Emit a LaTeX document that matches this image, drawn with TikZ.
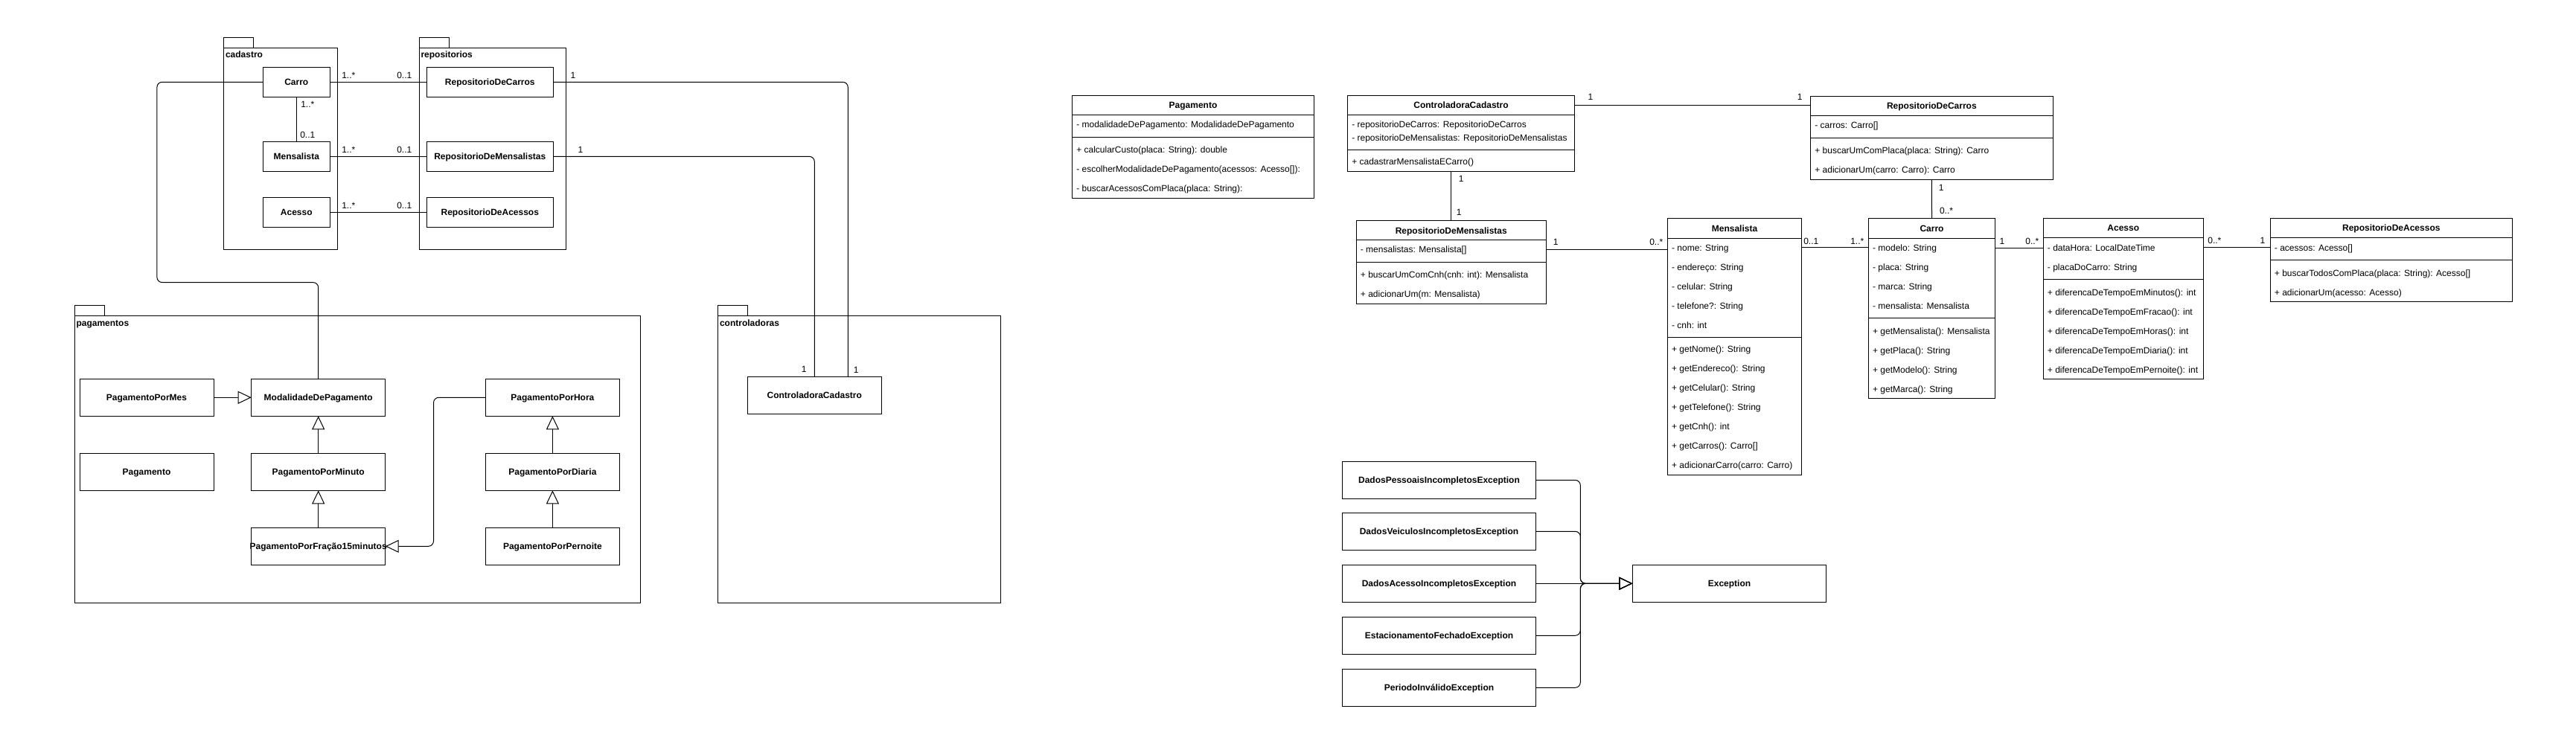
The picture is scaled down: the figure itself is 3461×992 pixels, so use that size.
\documentclass[tikz,border=0pt]{standalone}
\usepackage{fontspec}
\setmainfont{Liberation Sans}
\usetikzlibrary{arrows.meta,calc}
\tikzset{
  box/.style={draw, line width=1pt, rectangle, inner sep=0pt, outer sep=0pt, anchor=north west},
  hdr/.style={rectangle, inner sep=0pt, outer sep=0pt, anchor=north west, minimum height=26pt},
  cname/.style={font=\fontsize{12}{14}\selectfont\bfseries, inner sep=0pt, anchor=base},
  pkgl/.style={font=\fontsize{12}{14}\selectfont\bfseries, inner sep=0pt, anchor=base west},
  member/.style={font=\fontsize{12}{14}\selectfont, inner sep=0pt, anchor=base west},
  mult/.style={font=\fontsize{12}{14}\selectfont, inner sep=0pt, anchor=base},
  gen/.style={-{Triangle[open, length=18pt, width=17pt, line width=1pt]}},
  route/.style={rounded corners=7pt},
}
\newcommand\sclass[6]{%
  \node[box, minimum width={#4-#2}, minimum height={#5-#3}] (#1) at (#2,#3) {};
  \node[cname] (#1-t) at ({(#2+#4)/2},{(#3+#5)/2+4.3}) {#6};}
\newcommand\fclass[6]{%
  \node[box, minimum width={#4-#2}, minimum height={#5-#3}] (#1) at (#2,#3) {};
  \node[hdr, minimum width={#4-#2}] (#1-h) at (#2,#3) {};
  \draw[line width=1pt] (#1-h.south west) -- (#1-h.south east);
  \node[cname] (#1-t) at ({(#2+#4)/2},{#3+13+4.3}) {#6};}
\newcommand\rows[5]{\foreach \txt [count=\i] in {#5}{\node[member] (#1-\i) at ({#2},{#3+(\i-1)*#4+4.3}) {\txt};}}
\newcommand\mlab[4]{\node[mult] (#1) at (#2,{#3+4.3}) {#4};}
\begin{document}
\begin{tikzpicture}[x=1pt,y=-1pt,line width=1pt]
\fill[white] (0,0) rectangle (3461,992);
\useasboundingbox (0,0) rectangle (3461,992);

% ---------------- packages ----------------
\node[box, minimum width=39.6, minimum height=13.6] (cadTab) at (300.7,50.7) {};
\node[box, minimum width=152.6, minimum height=270.7] (cadPkg) at (300.7,64.3) {};
\node[pkgl] (cadLbl) at (302.5,78) {cadastro};

\node[box, minimum width=40, minimum height=13.6] (repTab) at (563.3,50.7) {};
\node[box, minimum width=197, minimum height=270.7] (repPkg) at (563.3,64.3) {};
\node[pkgl] (repLbl) at (565,78) {repositorios};

\node[box, minimum width=40, minimum height=13.3] (pagTab) at (100.4,410.7) {};
\node[box, minimum width=760.2, minimum height=386] (pagPkg) at (100.4,424) {};
\node[pkgl] (pagLbl) at (102,438) {pagamentos};

\node[box, minimum width=40, minimum height=13.3] (conTab) at (964.3,410.7) {};
\node[box, minimum width=380, minimum height=386] (conPkg) at (964.3,424) {};
\node[pkgl] (conLbl) at (966.5,438) {controladoras};

% ---------------- left simple classes ----------------
\sclass{carroL}{353.3}{90.3}{443.3}{130.3}{Carro}
\sclass{mensL}{353.3}{190.3}{443.3}{230.3}{Mensalista}
\sclass{acessoL}{353.3}{265.3}{443.3}{305.3}{Acesso}
\sclass{repCarrosL}{573.3}{90.3}{743.3}{130.3}{RepositorioDeCarros}
\sclass{repMensL}{573.3}{190.3}{743.3}{230.3}{RepositorioDeMensalistas}
\sclass{repAcessosL}{573.3}{265.3}{743.3}{305.3}{RepositorioDeAcessos}
\sclass{pMes}{107}{509.3}{287}{559.3}{PagamentoPorMes}
\sclass{pPag}{107}{609.3}{287}{659.3}{Pagamento}
\sclass{pMod}{337.7}{509.3}{517.7}{559.3}{ModalidadeDePagamento}
\sclass{pMin}{337.7}{609.3}{517.7}{659.3}{PagamentoPorMinuto}
\sclass{pFrac}{337.7}{709.3}{517.7}{759.3}{PagamentoPorFração15minutos}
\sclass{pHora}{652.4}{509.3}{832.4}{559.3}{PagamentoPorHora}
\sclass{pDiaria}{652.4}{609.3}{832.4}{659.3}{PagamentoPorDiaria}
\sclass{pPernoite}{652.4}{709.3}{832.4}{759.3}{PagamentoPorPernoite}
\sclass{contCadL}{1004.3}{506.3}{1184.3}{556.3}{ControladoraCadastro}

% ---------------- left connectors ----------------
\draw (carroL.east) -- (repCarrosL.west);
\draw (mensL.east) -- (repMensL.west);
\draw (acessoL.east) -- (repAcessosL.west);
\draw (carroL.south) -- (mensL.north);
\coordinate (bendA) at (210.9,379.6);
\draw[route] (carroL.west) -| (bendA) -| (pMod.north);
\draw[route] (repCarrosL.east) -| ([xshift=45pt]contCadL.north);
\draw[route] (repMensL.east) -| (contCadL.north);
\draw[gen] (pMes.east) -- (pMod.west);
\draw[gen] (pMin.north) -- (pMod.south);
\draw[gen] (pFrac.north) -- (pMin.south);
\draw[gen] (pDiaria.north) -- (pHora.south);
\draw[gen] (pPernoite.north) -- (pDiaria.south);
\coordinate (bendB) at (582.5,734.3);
\draw[route,gen] (pHora.west) -| (bendB) -- (pFrac.east);

\mlab{lA1}{468.3}{101}{1..*}
\mlab{lA2}{543.3}{101}{0..1}
\mlab{lB1}{468.3}{201}{1..*}
\mlab{lB2}{543.3}{201}{0..1}
\mlab{lC1}{468.3}{276}{1..*}
\mlab{lC2}{543.3}{276}{0..1}
\mlab{lD1}{413.3}{140}{1..*}
\mlab{lD2}{413.3}{181}{0..1}
\mlab{lE1}{770}{101}{1}
\mlab{lE2}{1150.3}{497}{1}
\mlab{lF1}{780}{201}{1}
\mlab{lF2}{1080.3}{496.3}{1}

% ---------------- right full classes ----------------
\fclass{pag}{1440.7}{128.3}{1765.3}{266.3}{Pagamento}
\draw (1440.7,184.3) -- (1765.3,184.3);
\rows{pag-a}{1445.8}{167.3}{26}{{- modalidadeDePagamento: ModalidadeDePagamento}}
\rows{pag-m}{1445.8}{201.3}{26}{{+ calcularCusto(placa: String): double},{- escolherModalidadeDePagamento(acessos: Acesso[]):},{- buscarAcessosComPlaca(placa: String):}}

\fclass{contCad}{1810.7}{128.3}{2115.3}{230.3}{ControladoraCadastro}
\draw (1810.7,201.3) -- (2115.3,201.3);
\rows{contCad-a}{1815.8}{167.7}{18}{{- repositorioDeCarros: RepositorioDeCarros},{- repositorioDeMensalistas: RepositorioDeMensalistas}}
\rows{contCad-m}{1815.8}{217.7}{26}{{+ cadastrarMensalistaECarro()}}

\fclass{repCarros}{2432.7}{129.3}{2758}{241.3}{RepositorioDeCarros}
\draw (2432.7,185.3) -- (2758,185.3);
\rows{repCarros-a}{2437.8}{168.3}{26}{{- carros: Carro[]}}
\rows{repCarros-m}{2437.8}{202.3}{26}{{+ buscarUmComPlaca(placa: String): Carro},{+ adicionarUm(carro: Carro): Carro}}

\fclass{repMens}{1822.3}{296.7}{2077.3}{408.3}{RepositorioDeMensalistas}
\draw (1822.3,352.3) -- (2077.3,352.3);
\rows{repMens-a}{1827.4}{335.3}{26}{{- mensalistas: Mensalista[]}}
\rows{repMens-m}{1827.4}{369.3}{26}{{+ buscarUmComCnh(cnh: int): Mensalista},{+ adicionarUm(m: Mensalista)}}

\fclass{mensal}{2240.5}{294}{2420.5}{638}{Mensalista}
\draw (2240.5,453) -- (2420.5,453);
\rows{mensal-a}{2245.6}{333}{26}{{- nome: String},{- endereço: String},{- celular: String},{- telefone?: String},{- cnh: int}}
\rows{mensal-m}{2245.6}{469}{26}{{+ getNome(): String},{+ getEndereco(): String},{+ getCelular(): String},{+ getTelefone(): String},{+ getCnh(): int},{+ getCarros(): Carro[]},{+ adicionarCarro(carro: Carro)}}

\fclass{carro}{2510.5}{294}{2680.5}{535.5}{Carro}
\draw (2510.5,427.5) -- (2680.5,427.5);
\rows{carro-a}{2515.6}{333}{26}{{- modelo: String},{- placa: String},{- marca: String},{- mensalista: Mensalista}}
\rows{carro-m}{2515.6}{444.7}{26}{{+ getMensalista(): Mensalista},{+ getPlaca(): String},{+ getModelo(): String},{+ getMarca(): String}}

\fclass{acesso}{2745.3}{293.5}{2960.3}{509.5}{Acesso}
\draw (2745.3,375.5) -- (2960.3,375.5);
\rows{acesso-a}{2750.4}{332.7}{26}{{- dataHora: LocalDateTime},{- placaDoCarro: String}}
\rows{acesso-m}{2750.4}{393.3}{26}{{+ diferencaDeTempoEmMinutos(): int},{+ diferencaDeTempoEmFracao(): int},{+ diferencaDeTempoEmHoras(): int},{+ diferencaDeTempoEmDiaria(): int},{+ diferencaDeTempoEmPernoite(): int}}

\fclass{repAcessos}{3050.3}{293.3}{3375.3}{405.3}{RepositorioDeAcessos}
\draw (3050.3,349.3) -- (3375.3,349.3);
\rows{repAcessos-a}{3055.4}{333.3}{26}{{- acessos: Acesso[]}}
\rows{repAcessos-m}{3055.4}{367}{26}{{+ buscarTodosComPlaca(placa: String): Acesso[]},{+ adicionarUm(acesso: Acesso)}}

% ---------------- right connectors ----------------
\draw (contCad-h.east) -- (contCad-h.east -| repCarros.west);
\draw (contCad.south -| repMens.north) -- (repMens.north);
\coordinate (yRM) at (0,335);
\draw (repMens.east |- yRM) -- (mensal.west |- yRM);
\coordinate (yMC) at (0,332.5);
\draw (mensal.east |- yMC) -- (carro.west |- yMC);
\draw (repCarros.south) -- (carro.north);
\coordinate (yCA) at (0,333);
\draw (carro.east |- yCA) -- (acesso.west |- yCA);
\coordinate (yAR) at (0,332.5);
\draw (acesso.east |- yAR) -- (repAcessos.west |- yAR);

\mlab{rA1}{2137}{130.7}{1}
\mlab{rA2}{2418.3}{130.7}{1}
\mlab{rB1}{1963.3}{240.7}{1}
\mlab{rB2}{1960.3}{285.7}{1}
\mlab{rC1}{2090.3}{325.7}{1}
\mlab{rC2}{2225.3}{325.7}{0..*}
\mlab{rD1}{2433.3}{324}{0..1}
\mlab{rD2}{2495.3}{324}{1..*}
\mlab{rE1}{2608.3}{252.7}{1}
\mlab{rE2}{2615}{283.3}{0..*}
\mlab{rF1}{2690}{324}{1}
\mlab{rF2}{2730.3}{324}{0..*}
\mlab{rG1}{2975.3}{323.3}{0..*}
\mlab{rG2}{3040}{323.3}{1}

% ---------------- exceptions ----------------
\sclass{exc1}{1803.3}{620.3}{2063.7}{670.3}{DadosPessoaisIncompletosException}
\sclass{exc2}{1803.3}{689.3}{2063.7}{739.3}{DadosVeiculosIncompletosException}
\sclass{exc3}{1803.3}{759.3}{2063.7}{809.3}{DadosAcessoIncompletosException}
\sclass{exc4}{1803.3}{829.3}{2063.7}{879.3}{EstacionamentoFechadoException}
\sclass{exc5}{1803.3}{899.3}{2063.7}{949.3}{PeriodoInválidoException}
\sclass{exception}{2193.3}{759.3}{2453.7}{809.3}{Exception}
\coordinate (merge) at (2123.3,784.3);
\draw[route,gen] (exc1.east) -| (merge) -- (exception.west);
\draw[route,gen] (exc2.east) -| (merge) -- (exception.west);
\draw[gen] (exc3.east) -- (exception.west);
\draw[route,gen] (exc4.east) -| (merge) -- (exception.west);
\draw[route,gen] (exc5.east) -| (merge) -- (exception.west);
\end{tikzpicture}
\end{document}
